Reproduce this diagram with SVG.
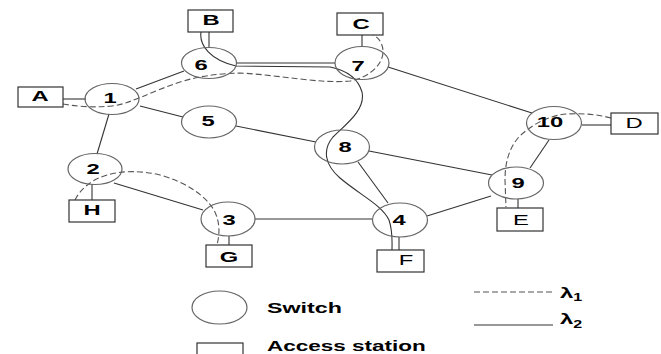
<svg xmlns="http://www.w3.org/2000/svg" width="661" height="354" viewBox="0 0 661 354">
  <style>
    .sw { fill: none; stroke: #666; stroke-width: 1.2; }
    .st { fill: #fff; stroke: #333; stroke-width: 1.2; }
    .link { fill: none; stroke: #333; stroke-width: 1.1; }
    .l1 { fill: none; stroke: #555; stroke-width: 1.1; stroke-dasharray: 6 3; }
    .l2 { fill: none; stroke: #333; stroke-width: 1.1; }
    .num { font-family: "Liberation Sans", Arial, sans-serif; font-weight: bold; font-size: 14px; fill: #000; text-anchor: middle; }
    .lab { font-family: "Liberation Sans", Arial, sans-serif; font-weight: bold; font-size: 14px; fill: #000; text-anchor: middle; }
    .labn { font-weight: normal; }
    .leg { font-family: "Liberation Sans", Arial, sans-serif; font-weight: bold; font-size: 15px; fill: #000; }
  </style>

  <!-- physical fibre links -->
  <g id="connectors">
    <line class="link" x1="63" y1="99" x2="86" y2="99"/>
    <line class="link" x1="136" y1="89" x2="184" y2="71"/>
    <line class="link" x1="140" y1="106" x2="183" y2="117"/>
    <line class="link" x1="109" y1="114" x2="97" y2="154"/>
    <line class="link" x1="236" y1="63" x2="335" y2="63"/>
    <line class="link" x1="209" y1="32" x2="209" y2="47"/>
    <line class="link" x1="362" y1="35" x2="362" y2="47"/>
    <line class="link" x1="388" y1="67" x2="532" y2="113"/>
    <line class="link" x1="236" y1="126" x2="316" y2="142"/>
    <line class="link" x1="369" y1="151" x2="492" y2="175"/>
    <line class="link" x1="358" y1="162" x2="388" y2="203"/>
    <line class="link" x1="255" y1="219" x2="372" y2="219"/>
    <line class="link" x1="427" y1="216" x2="491" y2="196"/>
    <line class="link" x1="530" y1="168" x2="549" y2="140"/>
    <line class="link" x1="582" y1="125" x2="611" y2="125"/>
    <line class="link" x1="518" y1="199" x2="518" y2="208"/>
    <line class="link" x1="114" y1="183" x2="203" y2="210"/>
    <line class="link" x1="92" y1="184" x2="92" y2="200"/>
    <line class="link" x1="229" y1="236" x2="229" y2="245"/>
    <line class="link" x1="399" y1="237" x2="399" y2="250"/>

    <!-- lightpaths on wavelength 1 -->
    <path class="l1" d="M63,104 C75,106 90,108 112,106 C130,104 150,92 180,82 C200,76 215,74 240,73 C280,75 320,84 350,81 C372,77 384,62 383,50 C382,42 378,37 373,35"/>
    <path class="l1" d="M611,118 C600,115 585,113 567,114 C550,115 530,125 518,138 C508,150 505,165 505,180 L506,207"/>
    <path class="l1" d="M75,200 C80,190 90,180 107,175 C120,171 140,170 160,175 C185,182 205,195 214,210 C220,222 220,233 217,245"/>

    <!-- lightpath on wavelength 2 -->
    <path class="l2" d="M201,32 C199,45 210,60 236,66 L330,67 C345,70 358,78 362,92 C366,110 345,125 333,137 C322,150 325,165 340,178 C360,195 382,205 389,220 C393,232 392,242 392,250"/>
  </g>

  <!-- switches -->
  <g id="switch-1"><ellipse class="sw" cx="112" cy="99" rx="27" ry="15.5"/><text class="num" transform="translate(110 103) scale(1.7 1)">1</text></g>
  <g id="switch-2"><ellipse class="sw" cx="95" cy="169" rx="27" ry="15.5"/><text class="num" transform="translate(93 174) scale(1.7 1)">2</text></g>
  <g id="switch-3"><ellipse class="sw" cx="228" cy="219" rx="27" ry="17"/><text class="num" transform="translate(229 225) scale(1.7 1)">3</text></g>
  <g id="switch-4"><ellipse class="sw" cx="400" cy="220" rx="27.5" ry="17"/><text class="num" transform="translate(399 225) scale(1.7 1)">4</text></g>
  <g id="switch-5"><ellipse class="sw" cx="209" cy="122" rx="27.5" ry="16"/><text class="num" transform="translate(208 126) scale(1.7 1)">5</text></g>
  <g id="switch-6"><ellipse class="sw" cx="209" cy="63" rx="27.5" ry="15.5"/><text class="num" transform="translate(201 70) scale(1.7 1)">6</text></g>
  <g id="switch-7"><ellipse class="sw" cx="362" cy="63" rx="27" ry="16.5"/><text class="num" transform="translate(358 71) scale(1.7 1)">7</text></g>
  <g id="switch-8"><ellipse class="sw" cx="342" cy="147" rx="27.5" ry="17"/><text class="num" transform="translate(345 152) scale(1.7 1)">8</text></g>
  <g id="switch-9"><ellipse class="sw" cx="516" cy="183" rx="27.5" ry="16"/><text class="num" transform="translate(518 188) scale(1.7 1)">9</text></g>
  <g id="switch-10"><ellipse class="sw" cx="554" cy="123" rx="27.5" ry="16.5"/><text class="num" transform="translate(550 127) scale(1.7 1)">10</text></g>

  <!-- access stations -->
  <g id="station-A"><rect class="st" x="18" y="87" width="45" height="20"/><text class="lab" transform="translate(40 101) scale(1.7 1)">A</text></g>
  <g id="station-B"><rect class="st" x="188" y="10" width="45" height="22"/><text class="lab" transform="translate(211 25) scale(1.7 1)">B</text></g>
  <g id="station-C"><rect class="st" x="337" y="13" width="46" height="22"/><text class="lab" transform="translate(361 29) scale(1.7 1)">C</text></g>
  <g id="station-D"><rect class="st" x="611" y="113" width="47" height="21"/><text class="lab labn" transform="translate(634 128) scale(1.7 1)">D</text></g>
  <g id="station-E"><rect class="st" x="497" y="208" width="46" height="23"/><text class="lab labn" transform="translate(521 225) scale(1.7 1)">E</text></g>
  <g id="station-F"><rect class="st" x="377" y="250" width="47" height="22"/><text class="lab labn" transform="translate(406 265) scale(1.7 1)">F</text></g>
  <g id="station-G"><rect class="st" x="206" y="245" width="46" height="22"/><text class="lab" transform="translate(229 262) scale(1.7 1)">G</text></g>
  <g id="station-H"><rect class="st" x="69" y="200" width="46" height="22"/><text class="lab" transform="translate(92 215) scale(1.7 1)">H</text></g>

  <!-- legend -->
  <g id="legend">
    <ellipse class="sw" cx="219.5" cy="307.5" rx="27.5" ry="16.5"/>
    <text class="leg" transform="translate(267 313) scale(1.55 1)">Switch</text>
    <rect class="st" x="197" y="343" width="46" height="20"/>
    <text class="leg" transform="translate(267 351) scale(1.5 1)">Access station</text>
    <line class="l1" x1="474" y1="292" x2="553" y2="292"/>
    <line class="l2" x1="474" y1="325" x2="553" y2="325"/>
    <text class="leg" font-size="13" transform="translate(560 298) scale(1.6 1)">λ<tspan font-size="10" dy="3">1</tspan></text>
    <text class="leg" font-size="13" transform="translate(560 324) scale(1.6 1)">λ<tspan font-size="10" dy="4">2</tspan></text>
  </g>
</svg>
